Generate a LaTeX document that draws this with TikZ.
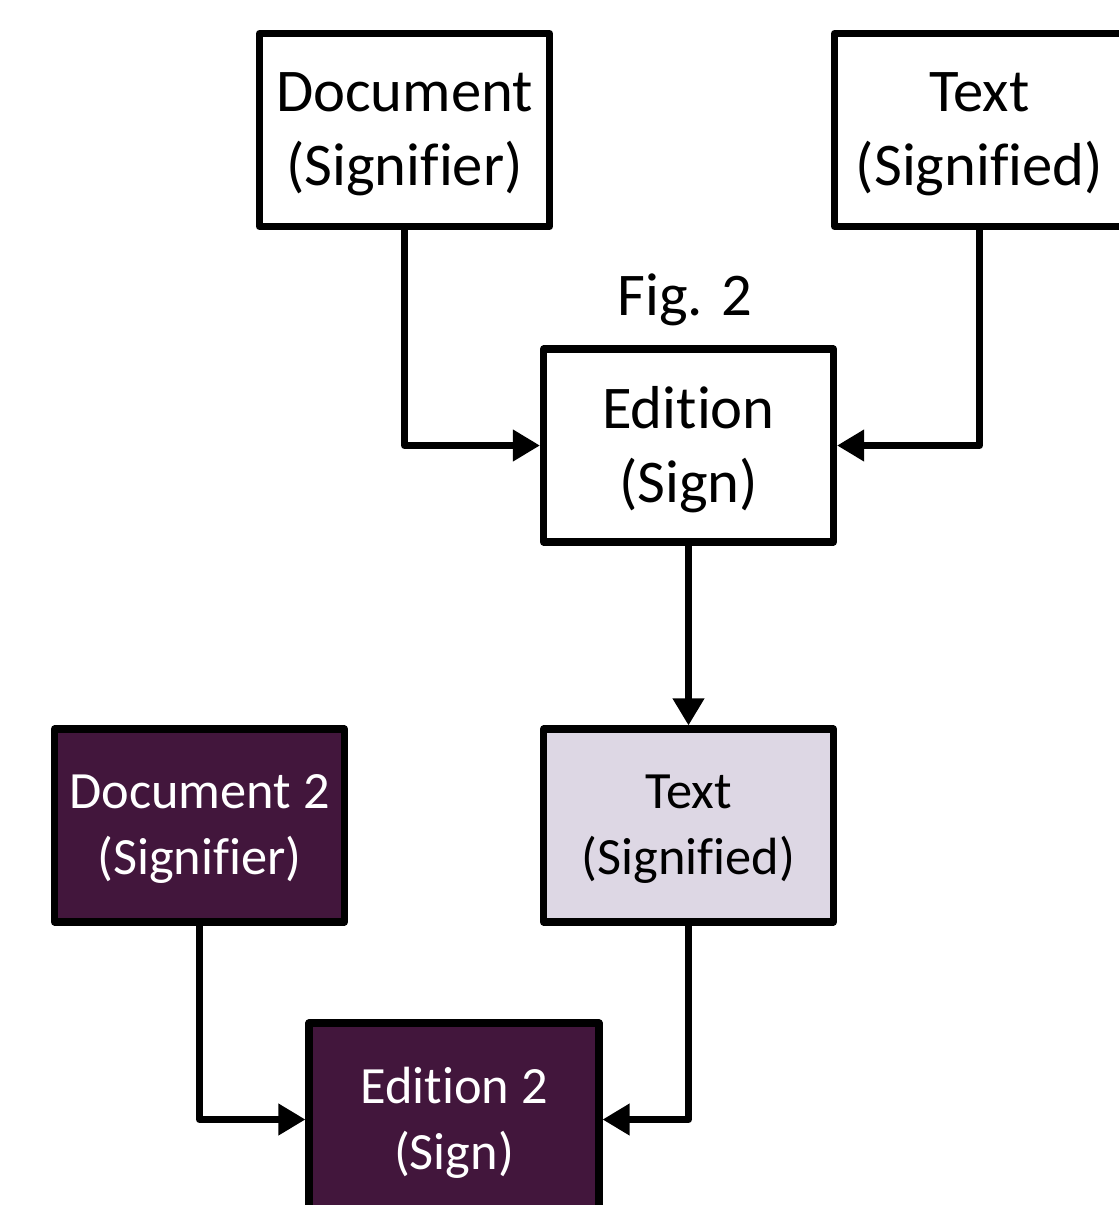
\documentclass[tikz,border=0pt]{standalone}
\usepackage{fontspec}
\setmainfont{Carlito}[Ligatures=NoCommon]
\usetikzlibrary{arrows.meta}

\definecolor{plumDark}{RGB}{66,22,60}
\definecolor{plumLight}{RGB}{221,215,228}

\begin{document}
\begin{tikzpicture}[
	box/.style = {draw, line width=4pt, line join=round, align=center, inner sep=0pt,
		text depth=0.1em, minimum width=5.80cm, minimum height=3.86cm},
	bigText/.style = {font=\fontsize{34.5}{42}\selectfont},
	smallText/.style = {font=\fontsize{29.8}{37.5}\selectfont},
	darkBox/.style = {box, smallText, fill=plumDark, text=white},
	link/.style = {line width=4pt, line join=round, -{Triangle[length=5.4mm, width=6mm]}},
]
	\useasboundingbox (0,0) rectangle (22.38,-24.10);

	\def \xDoc {8.09};
	\def \xText {19.59};
	\def \xEd {13.77};
	\def \xDocTwo {3.99};
	\def \xEdTwo {9.08};

%first sign: signifier and signified
	\node[box, bigText, fill=white] (doc) at (\xDoc, -2.60) {Document\\(Signifier)};
	\node[box, bigText, fill=white] (txt) at (\xText, -2.60) {Text\\(Signified)};
	\node[bigText] (fig) at (13.70, -6.00) {Fig. 2};
	\node[box, bigText, fill=white] (ed) at (\xEd, -8.91) {Edition\\(Sign)};

%second sign
	\node[box, smallText, fill=plumLight] (txtTwo) at (\xEd, -16.51) {Text\\(Signified)};
	\node[darkBox] (docTwo) at (\xDocTwo, -16.51) {Document 2\\(Signifier)};
	\node[darkBox] (edTwo) at (\xEdTwo, -22.39) {Edition 2\\(Sign)};

	\draw[link] (doc.south) |- (ed.west);
	\draw[link] (txt.south) |- (ed.east);
	\draw[link] (ed.south) -- (txtTwo.north);
	\draw[link] (docTwo.south) |- (edTwo.west);
	\draw[link] (txtTwo.south) |- (edTwo.east);
\end{tikzpicture}
\end{document}
